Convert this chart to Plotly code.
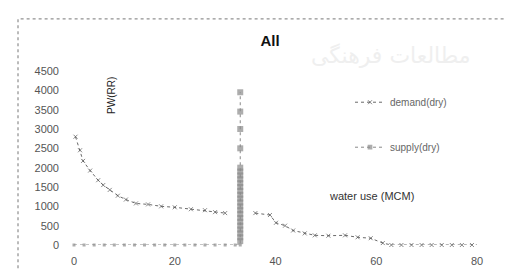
import plotly.graph_objects as go

# ---- data ----
demand_x = [0.3, 1.2, 1.8, 3.2, 4.8, 5.8, 7.1, 8.7, 10.3, 12.3, 14.7, 17.3, 20.0, 23.2, 26.0, 28.0, 30.0,
            None,
            36.0, 38.9, 40.1, 41.9, 43.5, 45.8, 47.8, 50.5, 53.8, 56.3, 58.9, 61.3, 63.0,
            65.0, 67.0, 69.0, 71.0, 73.0, 75.0, 77.0, 79.0, 80.5]
demand_y = [2800, 2450, 2175, 1925, 1675, 1550, 1425, 1275, 1175, 1075, 1050, 1000, 975, 925, 900, 850, 825,
            None,
            825, 775, 575, 500, 375, 300, 250, 240, 250, 200, 175, 50, 0,
            0, 0, 0, 0, 0, 0, 0, 0, 0]

supply_x = [0, 2, 4, 6, 8, 10, 12, 14, 16, 18, 20, 22, 24, 26, 28, 30, 32, 33,
            33, 33, 33, 33, 33, 33, 33, 33, 33, 33, 33, 33, 33, 33, 33, 33, 33, 33, 33, 33,
            33, 33, 33, 33]
supply_y = [0, 0, 0, 0, 0, 0, 0, 0, 0, 0, 0, 0, 0, 0, 0, 0, 0, 0,
            100, 200, 300, 400, 500, 600, 700, 800, 900, 1000, 1100, 1200, 1300, 1400, 1500, 1600,
            1700, 1800, 1900, 2000, 2500, 3000, 3450, 3950]

x_ticks = [0, 20, 40, 60, 80]
y_ticks = [0, 500, 1000, 1500, 2000, 2500, 3000, 3500, 4000, 4500]

title_text = "All"
series_names = ["demand(dry)", "supply(dry)"]
x_title = "water use (MCM)"
y_title = "PW(RR)"
watermark_text = "مطالعات فرهنگی"

W, H = 512, 271
L, R, T, B = 66, 43, 63, 31
pw, ph = W - L - R, H - T - B

def px_to_paper_x(px):
    return (px - L) / pw

def px_to_paper_y(py):
    return (H - B - py) / ph

fig = go.Figure()

# faint watermark in background
fig.add_annotation(text=watermark_text, xref="paper", yref="paper",
                   x=px_to_paper_x(465), xanchor="right", y=px_to_paper_y(32), showarrow=False,
                   font=dict(family="DejaVu Sans", size=22, color="#efefef"))

supply_sizes = [3 if v == 0 else 6 for v in supply_y]
demand_sizes = [4 for _ in demand_y]

fig.add_trace(go.Scatter(
    x=demand_x, y=demand_y, mode="lines+markers", name=series_names[0],
    line=dict(color="#6a6a6a", width=1, dash="dot"),
    marker=dict(symbol="x-thin-open", size=demand_sizes, color="#555555", line=dict(width=1, color="#555555")),
    connectgaps=False, legendgroup="d", cliponaxis=False,
))
fig.add_trace(go.Scatter(
    x=supply_x, y=supply_y, mode="lines+markers", name=series_names[1],
    line=dict(color="#8a8a8a", width=1, dash="dot"),
    marker=dict(symbol="square", size=supply_sizes, color="#8a8a8a", line=dict(width=0)),
    legendgroup="s", cliponaxis=False,
))

font_main = "Liberation Sans, Arial, sans-serif"

fig.update_layout(
    width=W, height=H,
    margin=dict(l=L, r=R, t=T, b=B),
    paper_bgcolor="white", plot_bgcolor="white",
    title=dict(text="<b>" + title_text + "</b>", x=262 / W, xref="container", xanchor="center",
               y=1 - 33 / H, yref="container", yanchor="middle",
               font=dict(family=font_main, size=15, color="#111111")),
    font=dict(family=font_main, size=10, color="#555555"),
    showlegend=True,
    legend=dict(x=px_to_paper_x(342), xanchor="left", y=px_to_paper_y(80), yanchor="top",
                bgcolor="rgba(0,0,0,0)", font=dict(size=10, color="#666666"),
                traceorder="grouped", tracegroupgap=26, itemwidth=30),
    xaxis=dict(range=[0, 80], tickvals=x_ticks, ticktext=[str(v) for v in x_ticks],
               showgrid=False, zeroline=False, showline=False, ticks="",
               tickfont=dict(size=11, color="#555555"), ticklabelstandoff=8),
    yaxis=dict(range=[0, 4500], tickvals=y_ticks, ticktext=[str(v) for v in y_ticks],
               showgrid=False, zeroline=False, showline=False, ticks="",
               tickfont=dict(size=11, color="#555555"), ticklabelstandoff=14),
)

# axis titles placed inside plot, as in the reference
fig.add_annotation(text=x_title, xref="paper", yref="paper",
                   x=px_to_paper_x(408), y=px_to_paper_y(198), showarrow=False,
                   font=dict(family=font_main, size=11, color="#333333"))
fig.add_annotation(text=y_title, xref="paper", yref="paper", textangle=-90,
                   x=px_to_paper_x(96), y=px_to_paper_y(67), showarrow=False,
                   font=dict(family=font_main, size=10, color="#222222"))

# dotted chart-area border
fig.add_shape(type="rect", xref="paper", yref="paper",
              x0=px_to_paper_x(10), x1=px_to_paper_x(507),
              y0=px_to_paper_y(268), y1=px_to_paper_y(10),
              line=dict(color="#777777", width=1, dash="dot"), layer="below")

fig.write_html("out.html")
